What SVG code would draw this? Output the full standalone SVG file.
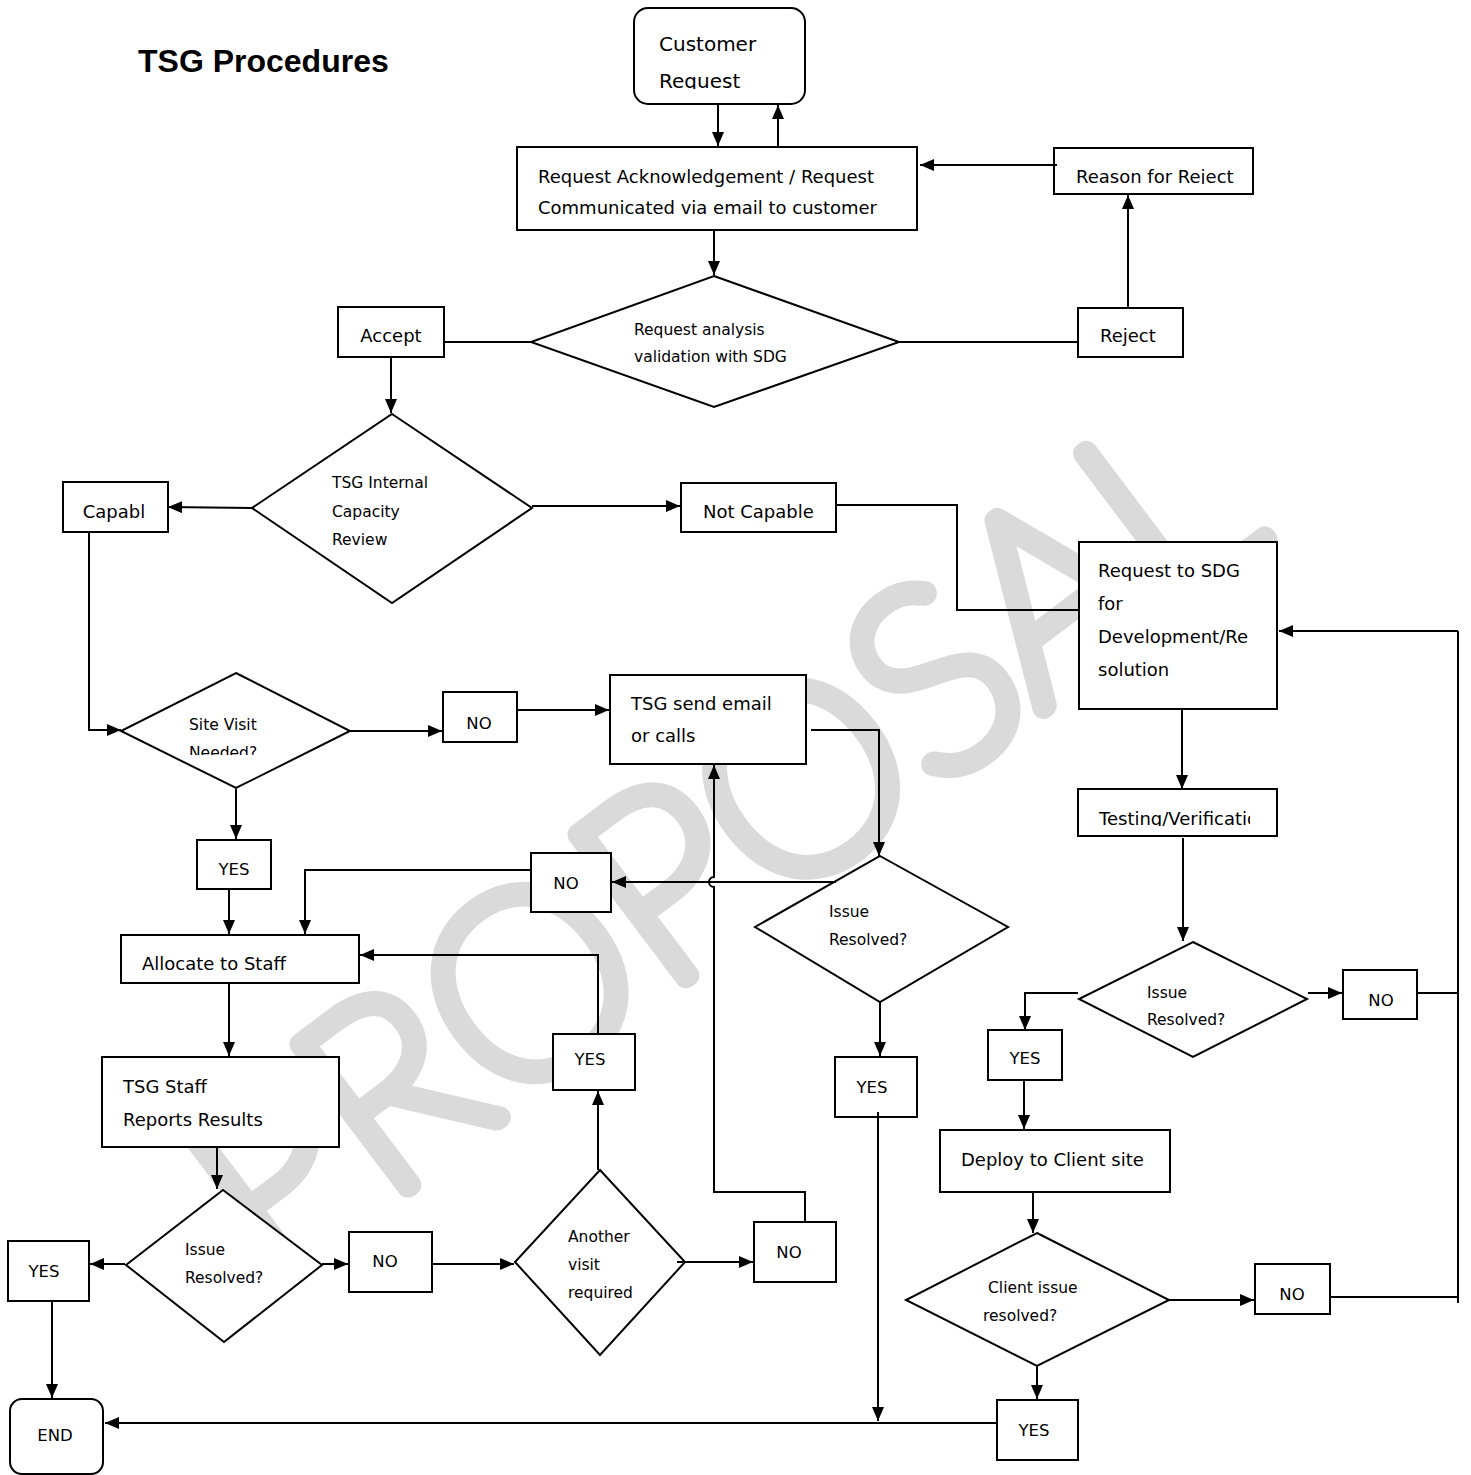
<svg xmlns="http://www.w3.org/2000/svg" width="1471" height="1475" viewBox="0 0 1471 1475">
<style>
.s{fill:#fff;stroke:#000;stroke-width:2}
.t{font-family:"DejaVu Sans",sans-serif;font-size:18px;fill:#000}
.d{font-family:"DejaVu Sans",sans-serif;font-size:15.5px;fill:#000}
.y{font-family:"DejaVu Sans",sans-serif;font-size:16.5px;fill:#000;text-anchor:middle}
.c path{fill:none;stroke:#000;stroke-width:2}
.c .a{marker-end:url(#ah)}
.wm{font-family:Lato,"Liberation Sans",sans-serif;font-weight:100;font-size:255px;fill:#dadada;stroke:#dadada;stroke-width:22;stroke-linejoin:round;stroke-linecap:round}
</style>
<defs>
<marker id="ah" viewBox="0 0 14 12" markerWidth="14" markerHeight="12" refX="14" refY="6" orient="auto" markerUnits="userSpaceOnUse"><path d="M0,0 L14,6 L0,12 z" fill="#000"/></marker>
<clipPath id="k1"><rect x="634" y="8" width="171" height="81"/></clipPath>
<clipPath id="k2"><rect x="1054" y="148" width="199" height="36"/></clipPath>
<clipPath id="k3"><rect x="1078" y="789" width="172" height="37"/></clipPath>
<clipPath id="k4"><rect x="121" y="673" width="229" height="82"/></clipPath>
</defs>
<rect width="1471" height="1475" fill="#fff"/>
<text class="wm" transform="translate(715,840) rotate(-37)" x="0" y="92" text-anchor="middle" textLength="1250" lengthAdjust="spacing">PROPOSAL</text>
<text x="138" y="72" font-family="Liberation Sans, Arial, sans-serif" font-weight="bold" font-size="32">TSG Procedures</text>

<g id="n-customer"><rect class="s" x="634" y="8" width="171" height="96" rx="14"/><g clip-path="url(#k1)"><text class="t" style="font-size:20px" x="659" y="51">Customer</text><text class="t" style="font-size:20px" x="659" y="88">Request</text></g></g>
<g id="n-ack"><rect class="s" x="517" y="147" width="400" height="83"/><text class="t" x="538" y="183">Request Acknowledgement / Request</text><text class="t" x="538" y="214">Communicated via email to customer</text></g>
<g id="n-analysis"><path class="s" d="M714,276 L899,342 L714,407 L531,342 Z"/><text class="d" x="634" y="335">Request analysis</text><text class="d" x="634" y="362">validation with SDG</text></g>
<g id="n-accept"><rect class="s" x="338" y="307" width="106" height="50"/><text class="t" x="391" y="342" text-anchor="middle">Accept</text></g>
<g id="n-reject"><rect class="s" x="1078" y="308" width="105" height="49"/><text class="t" x="1100" y="342">Reject</text></g>
<g id="n-reason"><rect class="s" x="1054" y="148" width="199" height="46"/><g clip-path="url(#k2)"><text class="t" x="1076" y="183">Reason for Reject</text></g></g>
<g id="n-capacity"><path class="s" d="M392,414 L532,508 L392,603 L252,508 Z"/><text class="d" x="332" y="488">TSG Internal</text><text class="d" x="332" y="517">Capacity</text><text class="d" x="332" y="545">Review</text></g>
<g id="n-capabl"><rect class="s" x="63" y="482" width="105" height="50"/><text class="t" x="114" y="518" text-anchor="middle">Capabl</text></g>
<g id="n-notcapable"><rect class="s" x="681" y="483" width="155" height="49"/><text class="t" x="703" y="518">Not Capable</text></g>
<g id="n-sdg"><rect class="s" x="1079" y="542" width="198" height="167"/><text class="t" x="1098" y="577">Request to SDG</text><text class="t" x="1098" y="610">for</text><text class="t" x="1098" y="643">Development/Re</text><text class="t" x="1098" y="676">solution</text></g>
<g id="n-testing"><rect class="s" x="1078" y="789" width="199" height="47"/><g clip-path="url(#k3)"><text class="t" x="1099" y="825">Testing/Verification</text></g></g>
<g id="n-issue3"><path class="s" d="M1193,942 L1307,999 L1193,1057 L1079,999 Z"/><text class="d" x="1147" y="998">Issue</text><text class="d" x="1147" y="1025">Resolved?</text></g>
<g id="n-no3"><rect class="s" x="1343" y="970" width="74" height="49"/><text class="y" x="1381" y="1006">NO</text></g>
<g id="n-yes3"><rect class="s" x="988" y="1030" width="74" height="50"/><text class="y" x="1025" y="1064">YES</text></g>
<g id="n-deploy"><rect class="s" x="940" y="1130" width="230" height="62"/><text class="t" x="961" y="1166">Deploy to Client site</text></g>
<g id="n-client"><path class="s" d="M1037,1233 L1169,1300 L1037,1366 L906,1300 Z"/><text class="d" x="988" y="1293">Client issue</text><text class="d" x="983" y="1321">resolved?</text></g>
<g id="n-no4"><rect class="s" x="1255" y="1264" width="75" height="50"/><text class="y" x="1292" y="1300">NO</text></g>
<g id="n-yes4"><rect class="s" x="997" y="1400" width="81" height="60"/><text class="y" x="1034" y="1436">YES</text></g>
<g id="n-end"><rect class="s" x="10" y="1399" width="93" height="75" rx="12"/><text class="y" x="55" y="1441">END</text></g>
<g id="n-sitevisit"><path class="s" d="M236,673 L350,731 L236,788 L121,731 Z"/><g clip-path="url(#k4)"><text class="d" x="189" y="730">Site Visit</text><text class="d" x="189" y="758">Needed?</text></g></g>
<g id="n-no1"><rect class="s" x="443" y="692" width="74" height="50"/><text class="y" x="479" y="729">NO</text></g>
<g id="n-tsgsend"><rect class="s" x="610" y="675" width="196" height="89"/><text class="t" x="631" y="710">TSG send email</text><text class="t" x="631" y="742">or calls</text></g>
<g id="n-issue2"><path class="s" d="M880,856 L1008,927 L880,1002 L755,927 Z"/><text class="d" x="829" y="917">Issue</text><text class="d" x="829" y="945">Resolved?</text></g>
<g id="n-no2"><rect class="s" x="531" y="853" width="80" height="59"/><text class="y" x="566" y="889">NO</text></g>
<g id="n-yes1"><rect class="s" x="197" y="840" width="74" height="49"/><text class="y" x="234" y="875">YES</text></g>
<g id="n-allocate"><rect class="s" x="121" y="935" width="238" height="48"/><text class="t" x="142" y="970">Allocate to Staff</text></g>
<g id="n-yes5"><rect class="s" x="553" y="1034" width="82" height="56"/><text class="y" x="590" y="1065">YES</text></g>
<g id="n-staff"><rect class="s" x="102" y="1057" width="237" height="90"/><text class="t" x="123" y="1093">TSG Staff</text><text class="t" x="123" y="1126">Reports Results</text></g>
<g id="n-issue1"><path class="s" d="M223,1190 L322,1265 L224,1342 L126,1265 Z"/><text class="d" x="185" y="1255">Issue</text><text class="d" x="185" y="1283">Resolved?</text></g>
<g id="n-yes2"><rect class="s" x="8" y="1241" width="81" height="60"/><text class="y" x="44" y="1277">YES</text></g>
<g id="n-no5"><rect class="s" x="349" y="1232" width="83" height="60"/><text class="y" x="385" y="1267">NO</text></g>
<g id="n-another"><path class="s" d="M600,1170 L685,1262 L600,1355 L515,1262 Z"/><text class="d" x="568" y="1242">Another</text><text class="d" x="568" y="1270">visit</text><text class="d" x="568" y="1298">required</text></g>
<g id="n-no6"><rect class="s" x="754" y="1222" width="82" height="60"/><text class="y" x="789" y="1258">NO</text></g>
<g id="n-yes6"><rect class="s" x="835" y="1057" width="82" height="60"/><text class="y" x="872" y="1093">YES</text></g>

<g id="connectors" class="c">
<path class="a" d="M718,104 V146"/>
<path class="a" d="M778,146 V105"/>
<path class="a" d="M1057,165 H920"/>
<path class="a" d="M714,230 V275"/>
<path d="M444,342 H531"/>
<path d="M899,342 H1078"/>
<path class="a" d="M1128,308 V195"/>
<path class="a" d="M391,357 V413"/>
<path class="a" d="M252,508 L168,507"/>
<path class="a" d="M532,506 H680"/>
<path d="M836,505 H957 V610 H1079"/>
<path class="a" d="M1458,631 H1279"/>
<path d="M1458,631 V1303"/>
<path class="a" d="M1182,709 V789"/>
<path class="a" d="M1183,838 V941"/>
<path class="a" d="M1308,993 H1342"/>
<path d="M1417,993 H1458"/>
<path class="a" d="M1078,993 H1025 V1030"/>
<path class="a" d="M1024,1080 V1129"/>
<path class="a" d="M1033,1192 V1233"/>
<path class="a" d="M1169,1300 H1254"/>
<path d="M1330,1297 H1458"/>
<path class="a" d="M1037,1366 V1399"/>
<path class="a" d="M997,1423 H105"/>
<path class="a" d="M878,1112 V1421"/>
<path class="a" d="M52,1301 V1398"/>
<path class="a" d="M89,532 V730 H121"/>
<path class="a" d="M350,731 H442"/>
<path class="a" d="M517,710 H609"/>
<path class="a" d="M811,730 H879 V856"/>
<path class="a" d="M836,882 H612"/>
<path class="a" d="M805,1222 V1192 H714 V887 A5,5 0 0 1 714,877 V765"/>
<path class="a" d="M531,870 H305 V934"/>
<path class="a" d="M236,789 V839"/>
<path class="a" d="M229,889 V934"/>
<path class="a" d="M598,1034 V955 H360"/>
<path class="a" d="M229,983 V1056"/>
<path class="a" d="M217,1147 V1189"/>
<path class="a" d="M125,1264 H90"/>
<path class="a" d="M322,1264 H348"/>
<path class="a" d="M432,1264 H514"/>
<path class="a" d="M677,1262 H753"/>
<path class="a" d="M598,1170 V1091"/>
<path class="a" d="M880,1002 V1056"/>
</g>
</svg>
